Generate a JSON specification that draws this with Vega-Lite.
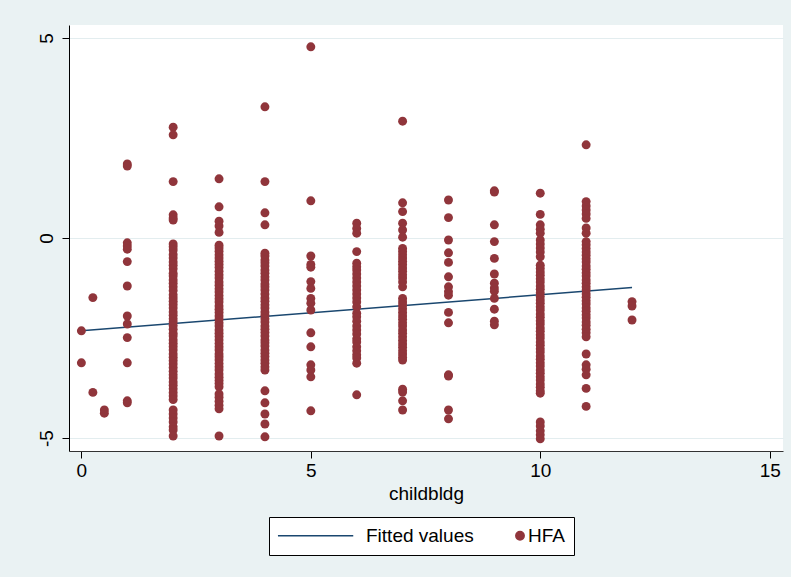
{
  "$schema": "https://vega.github.io/schema/vega-lite/v6.json",
  "width": 714,
  "height": 426,
  "autosize": {"type": "none"},
  "padding": {"left": 69, "top": 25, "right": 8, "bottom": 126},
  "background": "#EAF2F3",
  "config": {
    "view": {"fill": "white", "stroke": null},
    "font": "Liberation Sans"
  },
  "datasets": {
    "fit": [
      {"childbldg": 0, "fitted": -2.32},
      {"childbldg": 12, "fitted": -1.24}
    ],
    "hfa": [
      {"childbldg": 0, "HFA": -2.32}, {"childbldg": 0, "HFA": -3.12},
      {"childbldg": 0.25, "HFA": -1.49}, {"childbldg": 0.25, "HFA": -3.86},
      {"childbldg": 0.5, "HFA": -4.3}, {"childbldg": 0.5, "HFA": -4.38},
      {"childbldg": 1, "HFA": 1.85}, {"childbldg": 1, "HFA": 1.8}, {"childbldg": 1, "HFA": -0.12}, {"childbldg": 1, "HFA": -0.2}, {"childbldg": 1, "HFA": -0.28}, {"childbldg": 1, "HFA": -0.59}, {"childbldg": 1, "HFA": -1.2}, {"childbldg": 1, "HFA": -1.95}, {"childbldg": 1, "HFA": -2.15}, {"childbldg": 1, "HFA": -2.49}, {"childbldg": 1, "HFA": -3.12}, {"childbldg": 1, "HFA": -4.07}, {"childbldg": 1, "HFA": -4.12},
      {"childbldg": 2, "HFA": 2.77}, {"childbldg": 2, "HFA": 2.58}, {"childbldg": 2, "HFA": 1.41}, {"childbldg": 2, "HFA": 0.58}, {"childbldg": 2, "HFA": 0.5}, {"childbldg": 2, "HFA": 0.45},
      {"childbldg": 2, "HFA": -0.15}, {"childbldg": 2, "HFA": -0.22}, {"childbldg": 2, "HFA": -0.3}, {"childbldg": 2, "HFA": -0.41}, {"childbldg": 2, "HFA": -0.5}, {"childbldg": 2, "HFA": -0.6}, {"childbldg": 2, "HFA": -0.68}, {"childbldg": 2, "HFA": -0.77}, {"childbldg": 2, "HFA": -0.88}, {"childbldg": 2, "HFA": -0.95}, {"childbldg": 2, "HFA": -1.05}, {"childbldg": 2, "HFA": -1.13}, {"childbldg": 2, "HFA": -1.22}, {"childbldg": 2, "HFA": -1.31}, {"childbldg": 2, "HFA": -1.42}, {"childbldg": 2, "HFA": -1.5}, {"childbldg": 2, "HFA": -1.58}, {"childbldg": 2, "HFA": -1.66}, {"childbldg": 2, "HFA": -1.75}, {"childbldg": 2, "HFA": -1.85}, {"childbldg": 2, "HFA": -1.93}, {"childbldg": 2, "HFA": -2.02}, {"childbldg": 2, "HFA": -2.1}, {"childbldg": 2, "HFA": -2.19}, {"childbldg": 2, "HFA": -2.28}, {"childbldg": 2, "HFA": -2.38}, {"childbldg": 2, "HFA": -2.45}, {"childbldg": 2, "HFA": -2.55}, {"childbldg": 2, "HFA": -2.63}, {"childbldg": 2, "HFA": -2.71}, {"childbldg": 2, "HFA": -2.8}, {"childbldg": 2, "HFA": -2.9}, {"childbldg": 2, "HFA": -2.98}, {"childbldg": 2, "HFA": -3.06}, {"childbldg": 2, "HFA": -3.15}, {"childbldg": 2, "HFA": -3.24}, {"childbldg": 2, "HFA": -3.33}, {"childbldg": 2, "HFA": -3.42}, {"childbldg": 2, "HFA": -3.5}, {"childbldg": 2, "HFA": -3.6}, {"childbldg": 2, "HFA": -3.68}, {"childbldg": 2, "HFA": -3.77}, {"childbldg": 2, "HFA": -3.86}, {"childbldg": 2, "HFA": -3.95}, {"childbldg": 2, "HFA": -4.04}, {"childbldg": 2, "HFA": -4.3}, {"childbldg": 2, "HFA": -4.4}, {"childbldg": 2, "HFA": -4.5}, {"childbldg": 2, "HFA": -4.6}, {"childbldg": 2, "HFA": -4.72}, {"childbldg": 2, "HFA": -4.8}, {"childbldg": 2, "HFA": -4.95},
      {"childbldg": 3, "HFA": 1.48}, {"childbldg": 3, "HFA": 0.78}, {"childbldg": 3, "HFA": 0.42}, {"childbldg": 3, "HFA": 0.3}, {"childbldg": 3, "HFA": 0.14},
      {"childbldg": 3, "HFA": -0.18}, {"childbldg": 3, "HFA": -0.25}, {"childbldg": 3, "HFA": -0.33}, {"childbldg": 3, "HFA": -0.42}, {"childbldg": 3, "HFA": -0.5}, {"childbldg": 3, "HFA": -0.58}, {"childbldg": 3, "HFA": -0.66}, {"childbldg": 3, "HFA": -0.74}, {"childbldg": 3, "HFA": -0.83}, {"childbldg": 3, "HFA": -0.92}, {"childbldg": 3, "HFA": -1.0}, {"childbldg": 3, "HFA": -1.1}, {"childbldg": 3, "HFA": -1.18}, {"childbldg": 3, "HFA": -1.27}, {"childbldg": 3, "HFA": -1.35}, {"childbldg": 3, "HFA": -1.44}, {"childbldg": 3, "HFA": -1.52}, {"childbldg": 3, "HFA": -1.6}, {"childbldg": 3, "HFA": -1.7}, {"childbldg": 3, "HFA": -1.78}, {"childbldg": 3, "HFA": -1.86}, {"childbldg": 3, "HFA": -1.95}, {"childbldg": 3, "HFA": -2.03}, {"childbldg": 3, "HFA": -2.12}, {"childbldg": 3, "HFA": -2.2}, {"childbldg": 3, "HFA": -2.3}, {"childbldg": 3, "HFA": -2.38}, {"childbldg": 3, "HFA": -2.46}, {"childbldg": 3, "HFA": -2.55}, {"childbldg": 3, "HFA": -2.64}, {"childbldg": 3, "HFA": -2.72}, {"childbldg": 3, "HFA": -2.8}, {"childbldg": 3, "HFA": -2.9}, {"childbldg": 3, "HFA": -2.97}, {"childbldg": 3, "HFA": -3.05}, {"childbldg": 3, "HFA": -3.14}, {"childbldg": 3, "HFA": -3.22}, {"childbldg": 3, "HFA": -3.3}, {"childbldg": 3, "HFA": -3.4}, {"childbldg": 3, "HFA": -3.48}, {"childbldg": 3, "HFA": -3.56}, {"childbldg": 3, "HFA": -3.64}, {"childbldg": 3, "HFA": -3.72}, {"childbldg": 3, "HFA": -3.9}, {"childbldg": 3, "HFA": -3.98}, {"childbldg": 3, "HFA": -4.08}, {"childbldg": 3, "HFA": -4.18}, {"childbldg": 3, "HFA": -4.27}, {"childbldg": 3, "HFA": -4.95},
      {"childbldg": 4, "HFA": 3.28}, {"childbldg": 4, "HFA": 1.41}, {"childbldg": 4, "HFA": 0.63}, {"childbldg": 4, "HFA": 0.33},
      {"childbldg": 4, "HFA": -0.38}, {"childbldg": 4, "HFA": -0.45}, {"childbldg": 4, "HFA": -0.55}, {"childbldg": 4, "HFA": -0.62}, {"childbldg": 4, "HFA": -0.7}, {"childbldg": 4, "HFA": -0.8}, {"childbldg": 4, "HFA": -0.88}, {"childbldg": 4, "HFA": -0.97}, {"childbldg": 4, "HFA": -1.05}, {"childbldg": 4, "HFA": -1.15}, {"childbldg": 4, "HFA": -1.22}, {"childbldg": 4, "HFA": -1.3}, {"childbldg": 4, "HFA": -1.4}, {"childbldg": 4, "HFA": -1.5}, {"childbldg": 4, "HFA": -1.58}, {"childbldg": 4, "HFA": -1.67}, {"childbldg": 4, "HFA": -1.75}, {"childbldg": 4, "HFA": -1.85}, {"childbldg": 4, "HFA": -1.93}, {"childbldg": 4, "HFA": -2.02}, {"childbldg": 4, "HFA": -2.1}, {"childbldg": 4, "HFA": -2.2}, {"childbldg": 4, "HFA": -2.28}, {"childbldg": 4, "HFA": -2.36}, {"childbldg": 4, "HFA": -2.45}, {"childbldg": 4, "HFA": -2.55}, {"childbldg": 4, "HFA": -2.62}, {"childbldg": 4, "HFA": -2.7}, {"childbldg": 4, "HFA": -2.8}, {"childbldg": 4, "HFA": -2.88}, {"childbldg": 4, "HFA": -2.96}, {"childbldg": 4, "HFA": -3.05}, {"childbldg": 4, "HFA": -3.13}, {"childbldg": 4, "HFA": -3.22}, {"childbldg": 4, "HFA": -3.3}, {"childbldg": 4, "HFA": -3.82}, {"childbldg": 4, "HFA": -4.12}, {"childbldg": 4, "HFA": -4.4}, {"childbldg": 4, "HFA": -4.65}, {"childbldg": 4, "HFA": -4.97},
      {"childbldg": 5, "HFA": 4.78}, {"childbldg": 5, "HFA": 0.93}, {"childbldg": 5, "HFA": -0.45}, {"childbldg": 5, "HFA": -0.66}, {"childbldg": 5, "HFA": -0.73}, {"childbldg": 5, "HFA": -1.09}, {"childbldg": 5, "HFA": -1.26}, {"childbldg": 5, "HFA": -1.51}, {"childbldg": 5, "HFA": -1.63}, {"childbldg": 5, "HFA": -1.8}, {"childbldg": 5, "HFA": -2.37}, {"childbldg": 5, "HFA": -2.72}, {"childbldg": 5, "HFA": -3.17}, {"childbldg": 5, "HFA": -3.3}, {"childbldg": 5, "HFA": -3.47}, {"childbldg": 5, "HFA": -4.32},
      {"childbldg": 6, "HFA": 0.37}, {"childbldg": 6, "HFA": 0.24}, {"childbldg": 6, "HFA": 0.12}, {"childbldg": 6, "HFA": -0.34}, {"childbldg": 6, "HFA": -0.63}, {"childbldg": 6, "HFA": -0.72}, {"childbldg": 6, "HFA": -0.8}, {"childbldg": 6, "HFA": -0.9}, {"childbldg": 6, "HFA": -1.0}, {"childbldg": 6, "HFA": -1.1}, {"childbldg": 6, "HFA": -1.2}, {"childbldg": 6, "HFA": -1.3}, {"childbldg": 6, "HFA": -1.4}, {"childbldg": 6, "HFA": -1.5}, {"childbldg": 6, "HFA": -1.6}, {"childbldg": 6, "HFA": -1.72}, {"childbldg": 6, "HFA": -1.88}, {"childbldg": 6, "HFA": -1.97}, {"childbldg": 6, "HFA": -2.08}, {"childbldg": 6, "HFA": -2.2}, {"childbldg": 6, "HFA": -2.3}, {"childbldg": 6, "HFA": -2.4}, {"childbldg": 6, "HFA": -2.52}, {"childbldg": 6, "HFA": -2.6}, {"childbldg": 6, "HFA": -2.72}, {"childbldg": 6, "HFA": -2.82}, {"childbldg": 6, "HFA": -2.92}, {"childbldg": 6, "HFA": -3.0}, {"childbldg": 6, "HFA": -3.13}, {"childbldg": 6, "HFA": -3.92},
      {"childbldg": 7, "HFA": 2.92}, {"childbldg": 7, "HFA": 0.88}, {"childbldg": 7, "HFA": 0.66}, {"childbldg": 7, "HFA": 0.37}, {"childbldg": 7, "HFA": 0.2}, {"childbldg": 7, "HFA": 0.02}, {"childbldg": 7, "HFA": -0.26}, {"childbldg": 7, "HFA": -0.34}, {"childbldg": 7, "HFA": -0.42}, {"childbldg": 7, "HFA": -0.5}, {"childbldg": 7, "HFA": -0.58}, {"childbldg": 7, "HFA": -0.66}, {"childbldg": 7, "HFA": -0.75}, {"childbldg": 7, "HFA": -0.83}, {"childbldg": 7, "HFA": -0.92}, {"childbldg": 7, "HFA": -1.0}, {"childbldg": 7, "HFA": -1.1}, {"childbldg": 7, "HFA": -1.22}, {"childbldg": 7, "HFA": -1.51}, {"childbldg": 7, "HFA": -1.6}, {"childbldg": 7, "HFA": -1.68}, {"childbldg": 7, "HFA": -1.77}, {"childbldg": 7, "HFA": -1.86}, {"childbldg": 7, "HFA": -1.95}, {"childbldg": 7, "HFA": -2.03}, {"childbldg": 7, "HFA": -2.12}, {"childbldg": 7, "HFA": -2.2}, {"childbldg": 7, "HFA": -2.3}, {"childbldg": 7, "HFA": -2.38}, {"childbldg": 7, "HFA": -2.47}, {"childbldg": 7, "HFA": -2.56}, {"childbldg": 7, "HFA": -2.65}, {"childbldg": 7, "HFA": -2.73}, {"childbldg": 7, "HFA": -2.82}, {"childbldg": 7, "HFA": -2.9}, {"childbldg": 7, "HFA": -2.98}, {"childbldg": 7, "HFA": -3.05}, {"childbldg": 7, "HFA": -3.78}, {"childbldg": 7, "HFA": -3.85}, {"childbldg": 7, "HFA": -4.07}, {"childbldg": 7, "HFA": -4.3},
      {"childbldg": 8, "HFA": 0.95}, {"childbldg": 8, "HFA": 0.51}, {"childbldg": 8, "HFA": -0.05}, {"childbldg": 8, "HFA": -0.37}, {"childbldg": 8, "HFA": -0.61}, {"childbldg": 8, "HFA": -0.97}, {"childbldg": 8, "HFA": -1.22}, {"childbldg": 8, "HFA": -1.34}, {"childbldg": 8, "HFA": -1.43}, {"childbldg": 8, "HFA": -1.86}, {"childbldg": 8, "HFA": -2.12}, {"childbldg": 8, "HFA": -3.42}, {"childbldg": 8, "HFA": -3.45}, {"childbldg": 8, "HFA": -4.3}, {"childbldg": 8, "HFA": -4.52},
      {"childbldg": 9, "HFA": 1.18}, {"childbldg": 9, "HFA": 1.15}, {"childbldg": 9, "HFA": 0.33}, {"childbldg": 9, "HFA": -0.09}, {"childbldg": 9, "HFA": -0.51}, {"childbldg": 9, "HFA": -0.9}, {"childbldg": 9, "HFA": -1.13}, {"childbldg": 9, "HFA": -1.25}, {"childbldg": 9, "HFA": -1.33}, {"childbldg": 9, "HFA": -1.51}, {"childbldg": 9, "HFA": -1.78}, {"childbldg": 9, "HFA": -2.08}, {"childbldg": 9, "HFA": -2.17},
      {"childbldg": 10, "HFA": 1.12}, {"childbldg": 10, "HFA": 0.59}, {"childbldg": 10, "HFA": 0.33}, {"childbldg": 10, "HFA": 0.22}, {"childbldg": 10, "HFA": 0.12}, {"childbldg": 10, "HFA": -0.05}, {"childbldg": 10, "HFA": -0.15}, {"childbldg": 10, "HFA": -0.25}, {"childbldg": 10, "HFA": -0.35}, {"childbldg": 10, "HFA": -0.47}, {"childbldg": 10, "HFA": -0.68}, {"childbldg": 10, "HFA": -0.76}, {"childbldg": 10, "HFA": -0.85}, {"childbldg": 10, "HFA": -0.93}, {"childbldg": 10, "HFA": -1.02}, {"childbldg": 10, "HFA": -1.1}, {"childbldg": 10, "HFA": -1.2}, {"childbldg": 10, "HFA": -1.28}, {"childbldg": 10, "HFA": -1.37}, {"childbldg": 10, "HFA": -1.46}, {"childbldg": 10, "HFA": -1.55}, {"childbldg": 10, "HFA": -1.63}, {"childbldg": 10, "HFA": -1.72}, {"childbldg": 10, "HFA": -1.8}, {"childbldg": 10, "HFA": -1.9}, {"childbldg": 10, "HFA": -1.98}, {"childbldg": 10, "HFA": -2.07}, {"childbldg": 10, "HFA": -2.15}, {"childbldg": 10, "HFA": -2.25}, {"childbldg": 10, "HFA": -2.33}, {"childbldg": 10, "HFA": -2.42}, {"childbldg": 10, "HFA": -2.5}, {"childbldg": 10, "HFA": -2.6}, {"childbldg": 10, "HFA": -2.68}, {"childbldg": 10, "HFA": -2.77}, {"childbldg": 10, "HFA": -2.85}, {"childbldg": 10, "HFA": -2.95}, {"childbldg": 10, "HFA": -3.03}, {"childbldg": 10, "HFA": -3.12}, {"childbldg": 10, "HFA": -3.2}, {"childbldg": 10, "HFA": -3.3}, {"childbldg": 10, "HFA": -3.38}, {"childbldg": 10, "HFA": -3.47}, {"childbldg": 10, "HFA": -3.55}, {"childbldg": 10, "HFA": -3.65}, {"childbldg": 10, "HFA": -3.73}, {"childbldg": 10, "HFA": -3.82}, {"childbldg": 10, "HFA": -3.88}, {"childbldg": 10, "HFA": -4.6}, {"childbldg": 10, "HFA": -4.7}, {"childbldg": 10, "HFA": -4.82}, {"childbldg": 10, "HFA": -4.92}, {"childbldg": 10, "HFA": -5.02},
      {"childbldg": 11, "HFA": 2.33}, {"childbldg": 11, "HFA": 0.91}, {"childbldg": 11, "HFA": 0.8}, {"childbldg": 11, "HFA": 0.7}, {"childbldg": 11, "HFA": 0.6}, {"childbldg": 11, "HFA": 0.49}, {"childbldg": 11, "HFA": 0.25}, {"childbldg": 11, "HFA": 0.12}, {"childbldg": 11, "HFA": -0.09}, {"childbldg": 11, "HFA": -0.17}, {"childbldg": 11, "HFA": -0.26}, {"childbldg": 11, "HFA": -0.35}, {"childbldg": 11, "HFA": -0.43}, {"childbldg": 11, "HFA": -0.52}, {"childbldg": 11, "HFA": -0.6}, {"childbldg": 11, "HFA": -0.7}, {"childbldg": 11, "HFA": -0.78}, {"childbldg": 11, "HFA": -0.87}, {"childbldg": 11, "HFA": -0.95}, {"childbldg": 11, "HFA": -1.05}, {"childbldg": 11, "HFA": -1.13}, {"childbldg": 11, "HFA": -1.22}, {"childbldg": 11, "HFA": -1.3}, {"childbldg": 11, "HFA": -1.4}, {"childbldg": 11, "HFA": -1.48}, {"childbldg": 11, "HFA": -1.57}, {"childbldg": 11, "HFA": -1.65}, {"childbldg": 11, "HFA": -1.75}, {"childbldg": 11, "HFA": -1.83}, {"childbldg": 11, "HFA": -1.92}, {"childbldg": 11, "HFA": -2.0}, {"childbldg": 11, "HFA": -2.1}, {"childbldg": 11, "HFA": -2.18}, {"childbldg": 11, "HFA": -2.28}, {"childbldg": 11, "HFA": -2.37}, {"childbldg": 11, "HFA": -2.47}, {"childbldg": 11, "HFA": -2.9}, {"childbldg": 11, "HFA": -3.17}, {"childbldg": 11, "HFA": -3.28}, {"childbldg": 11, "HFA": -3.42}, {"childbldg": 11, "HFA": -3.76}, {"childbldg": 11, "HFA": -4.21},
      {"childbldg": 12, "HFA": -1.59}, {"childbldg": 12, "HFA": -1.7}, {"childbldg": 12, "HFA": -2.05}
    ]
  },
  "encoding": {
    "x": {
      "field": "childbldg", "type": "quantitative",
      "scale": {"domain": [-0.27, 15.29], "nice": false, "zero": false},
      "axis": {
        "values": [0, 5, 10, 15], "grid": false, "title": "childbldg",
        "domainColor": "#333333", "tickColor": "#000000", "tickSize": 7,
        "labelFontSize": 19, "labelColor": "#000000", "labelPadding": 3, "labelFlush": false,
        "titleFontSize": 19, "titleFontWeight": "normal", "titleColor": "#000000", "titlePadding": 4
      }
    }
  },
  "layer": [
    {
      "data": {"name": "fit"},
      "mark": {"type": "line", "strokeWidth": 1.5},
      "encoding": {
        "y": {
          "field": "fitted", "type": "quantitative",
          "scale": {"domain": [-5.325, 5.325], "nice": false, "zero": false},
          "axis": {
            "values": [-5, 0, 5], "grid": true, "gridColor": "#E3EDEF", "gridWidth": 1, "title": null,
            "domainColor": "#000000", "tickColor": "#000000", "tickSize": 7,
            "labelFontSize": 19, "labelColor": "#000000", "labelAngle": 270,
            "labelAlign": "center", "labelBaseline": "bottom", "labelPadding": 6,
            "labelExpr": "datum.value + ''"
          }
        },
        "color": {
          "datum": "Fitted values", "type": "nominal",
          "scale": {"domain": ["Fitted values", "HFA"], "range": ["#1A476F", "#90353B"]},
          "legend": {
            "title": null, "orient": "none", "legendX": 200, "legendY": 492,
            "direction": "horizontal", "strokeColor": "#000000", "fillColor": "#FFFFFF",
            "padding": 9, "columnPadding": 38, "labelFontSize": 19, "labelColor": "#000000",
            "encode": {
              "symbols": {
                "update": {
                  "shape": {"signal": "datum.value === 'HFA' ? 'circle' : 'M-9,0H9'"},
                  "size": {"value": 70},
                  "x": {"signal": "datum.value === 'HFA' ? 5 : 37.6"},
                  "fill": {"signal": "datum.value === 'HFA' ? '#90353B' : 'transparent'"},
                  "stroke": {"signal": "datum.value === 'HFA' ? 'transparent' : '#1A476F'"},
                  "strokeWidth": {"value": 1.5},
                  "opacity": {"value": 1}
                }
              },
              "labels": {
                "update": {
                  "x": {"signal": "datum.value === 'HFA' ? 13 : 88"}
                }
              }
            }
          }
        }
      }
    },
    {
      "data": {"name": "hfa"},
      "mark": {"type": "circle", "size": 80, "opacity": 1},
      "encoding": {
        "y": {"field": "HFA", "type": "quantitative"},
        "color": {"datum": "HFA", "type": "nominal"}
      }
    }
  ]
}
